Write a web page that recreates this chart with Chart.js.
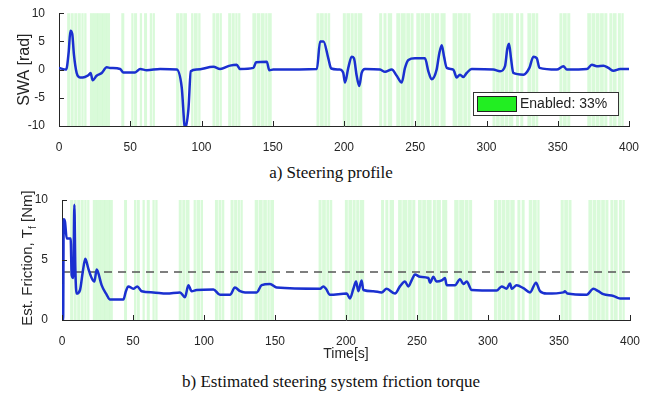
<!DOCTYPE html>
<html>
<head>
<meta charset="utf-8">
<script src="https://cdn.jsdelivr.net/npm/chart.js@4.4.1/dist/chart.umd.min.js"></script>
<style>
  body { margin: 0; background: #fff; }
  #wrap { position: relative; width: 662px; height: 399px; overflow: hidden; }
  canvas { position: absolute; left: 0; }
  .cap { position: absolute; left: 0; width: 662px; text-align: center;
         font-family: "Liberation Serif", "Times New Roman", serif; font-size: 17px; color: #111; }
</style>
</head>
<body>
<div id="wrap">
  <canvas id="swa" width="662" height="160" style="top:0"></canvas>
  <div class="cap" style="top:163px">a) Steering profile</div>
  <canvas id="fric" width="662" height="182" style="top:185px"></canvas>
  <div class="cap" style="top:372px">b) Estimated steering system friction torque</div>
</div>
<script>
// steering wheel angle [rad] vs time [s]
const swaTime  = [0, 5, 6.8, 8, 9.3, 10.5, 12.4, 14.7, 18.2, 20.6, 22.2, 23.6, 26.4, 30, 33.5, 35.9, 42.9, 45.2, 53.4, 57, 61.6, 71,
                  82.6, 86.1, 88.5, 90.8, 92.5, 96.7, 108.4, 113, 120, 124.7, 127, 136.4, 138.3, 145.8, 147.6, 150.4, 181, 183.2, 185.6, 189, 191,
                  197.2, 199.5, 200.7, 203, 205.4, 207, 208.9, 210.7, 212.4, 214.7, 225.3, 228.8, 233.5, 237, 240.5, 242.8, 245.2, 249.8, 256.8,
                  259.2, 261.5, 265, 266.9, 268.6, 270.2, 272.1, 276.7, 279.1, 281.4, 283.7, 286.1, 289.6, 304.8, 309.5, 313, 314.6, 315.8, 317.2,
                  318.8, 325.9, 330.1, 332.9, 335.3, 337.2, 349.3, 354, 356.4, 370.4, 373.9, 377.4, 382.1, 385.6, 389.1, 393.8, 400];
const swaValue = [0.3, 0, 3.1, 6.9, 6.3, 2.6, -0.6, -1.4, -1.3, -1, -0.6, -1.9, -1.1, -0.6, 0.4, 0.3, 0.1, -0.5, -0.5, 0.1, -0.1, 0.1,
                  0, -3.1, -10.5, -7.1, -0.3, 0, 0.5, 0.1, 0.7, 0.85, 0.1, 0.3, 1.3, 1.4, -0.1, 0, 0.1, 5, 5, 2, 0.2,
                  0, -0.6, -2.3, 0.3, 2.3, 2, -1.1, -2.9, -0.6, 0.1, 0, -0.4, 0, -1.1, -2.3, 0.3, 1.7, 2, 2,
                  -0.3, -1.7, 0, 2.9, 4.3, 2.3, 0.3, 0, -1.4, -0.9, -1.3, -0.6, 0.1, 0, -0.3, 0.6, 3.7, 4.6, 2,
                  -0.6, -0.9, 0.3, 2.3, 2, 0.3, 0, 0.6, 0, 0.1, 0.85, 0.6, 0.7, 0.3, -0.2, 0.1, 0.1];

// estimated friction torque [Nm] vs time [s]
const fricTime  = [0, 0.8, 1.2, 2.1, 3.3, 6.1, 6.8, 8, 8.7, 9.4, 10.3, 12.7, 14.6, 16.4, 18.5, 20.9, 22.8, 24.4, 25.6, 27.9, 31.5, 33.8,
                   43.2, 45, 46.7, 50.2, 53, 56.1, 64.3, 73.7, 83.1, 86.6, 89, 91.3, 94.8, 106.6, 111.3, 118.3, 121.8, 125.4, 128.9, 137.1,
                   140.6, 146.5, 151.2, 181.7, 184, 185.9, 188.7, 200.5, 202.8, 205.2, 207.1, 208.7, 211, 212.2, 219.2, 225.1, 228.6, 234.5,
                   238, 241.5, 243.9, 246.2, 248.6, 252.1, 258, 259.2, 261.5, 263.8, 267.4, 269.7, 270.9, 276.8, 280.3, 282.6, 285, 288.5,
                   306.1, 309.6, 313.1, 315.5, 316.7, 320.2, 324.9, 329.6, 333.8, 336.6, 341.3, 353.1, 354.2, 355.9, 369.5, 374.2, 377.7,
                   381.2, 388.3, 393, 400];
const fricValue = [3, 0, 8.4, 8.2, 6.8, 6.8, 3.75, 3.5, 9.6, 4.3, 2.2, 2.5, 4, 5.1, 4.3, 3.5, 3.2, 4.2, 3.9, 2.9, 2.1, 1.7,
                   1.7, 2.4, 2.8, 2.6, 2.8, 2.4, 2.3, 2.2, 2.3, 1.9, 2.9, 2.4, 2.5, 2.55, 2.1, 2.1, 2.7, 2.4, 2.3, 2.3,
                   2.9, 3, 2.7, 2.6, 2.8, 2.6, 2.1, 2.2, 1.8, 2.6, 3.2, 2.4, 3.3, 2.5, 2.4, 2.3, 2.6, 2.2,
                   2.8, 3.2, 2.8, 3.3, 3.8, 3.6, 3.5, 3.1, 3.6, 3.2, 3.3, 3.5, 2.9, 2.9, 3.4, 3, 3.2, 2.5,
                   2.45, 2.8, 2.6, 3.05, 2.6, 2.9, 2.65, 2.3, 3.1, 2.4, 2.2, 2.3, 2.4, 2.2, 2.1, 2.6, 2.4,
                   2.15, 2, 1.8, 1.8];
const fricLimit = 4;

// time windows where the feature was enabled [s]
const enabledStart = [6, 8.5, 11, 13.5, 16, 18, 22, 24.5, 27.5, 30.5, 33.5, 44, 51, 53, 57, 60, 64, 66, 82.5, 85, 87.5, 93, 95, 98,
                      108, 110.5, 113, 119, 121.5, 124, 126, 136, 139, 142, 145, 147, 181, 183.5, 186.5, 189, 199.5, 202, 205, 207.5, 210,
                      225, 228, 231, 237, 240, 244, 247, 251, 254, 257, 261.5, 264, 268, 276.5, 280, 284, 287,
                      304.5, 307, 310, 313, 316, 321, 324, 329, 332, 335, 351.5, 354, 357, 371, 374, 377, 380, 383, 386.5, 389, 392.5, 395];
const enabledEnd   = [7.5, 10, 12.5, 15, 17, 19, 24, 27, 30, 33, 35.5, 45.5, 52, 54.5, 58, 61.5, 65, 67, 84, 86.5, 89.5, 94, 97, 99,
                      109.5, 112, 114, 120.5, 123, 125, 127, 138, 141, 144, 146, 149, 182.5, 185.5, 188, 190, 201, 204, 206.5, 209, 212.5,
                      226.5, 229.5, 233.5, 239, 243, 246, 248.5, 253, 256, 260, 263, 266.5, 271, 279, 283, 286, 288.5,
                      306, 309, 312, 315, 318.5, 322.5, 325.5, 331, 334, 336, 353, 356, 358.5, 373, 376, 379, 382, 384.5, 388, 391, 394, 396];
const enabledLabel = 'Enabled: 33%';

const axisColor = '#262626';
const fontFamily = 'Liberation Sans, Arial, sans-serif';
const tickFont = { family: fontFamily, size: 12 };

function toPoints(xs, ys) {
    return xs.map((x, i) => ({ x: x, y: ys[i] }));
}

// green bands behind the curves, plus inward tick marks
const bandsPlugin = {
    id: 'bands',
    beforeDatasetsDraw(chart) {
        const { ctx, chartArea, scales } = chart;
        ctx.save();
        ctx.fillStyle = 'rgba(120,238,120,0.28)';
        enabledStart.forEach((s, i) => {
            const x0 = scales.x.getPixelForValue(s - 0.3);
            const x1 = scales.x.getPixelForValue(enabledEnd[i] + 0.3);
            ctx.fillRect(x0, chartArea.top, Math.max(x1 - x0, 1), chartArea.bottom - chartArea.top);
        });
        ctx.restore();
    },
    afterDraw(chart) {
        const { ctx, chartArea, scales } = chart;
        ctx.save();
        ctx.strokeStyle = axisColor;
        ctx.lineWidth = 1;
        scales.x.ticks.forEach(t => {
            const x = Math.round(scales.x.getPixelForValue(t.value)) + 0.5;
            ctx.beginPath();
            ctx.moveTo(x, chartArea.bottom);
            ctx.lineTo(x, chartArea.bottom - 5);
            ctx.stroke();
        });
        scales.y.ticks.forEach(t => {
            const y = Math.round(scales.y.getPixelForValue(t.value)) + 0.5;
            ctx.beginPath();
            ctx.moveTo(chartArea.left, y);
            ctx.lineTo(chartArea.left + 5, y);
            ctx.stroke();
        });
        ctx.restore();
    }
};

// legend box in the lower right of the steering plot
const legendPlugin = {
    id: 'boxLegend',
    afterDraw(chart) {
        const { ctx, chartArea } = chart;
        const w = 145, h = 23;
        const x = chartArea.right - 11 - w, y = chartArea.bottom - 11 - h;
        ctx.save();
        ctx.fillStyle = '#fff';
        ctx.fillRect(x, y, w, h);
        ctx.strokeStyle = '#333';
        ctx.lineWidth = 1;
        ctx.strokeRect(x + 0.5, y + 0.5, w, h);
        ctx.fillStyle = '#22ee22';
        ctx.fillRect(x + 4, y + 4, 39, 15);
        ctx.strokeStyle = '#222';
        ctx.strokeRect(x + 4.5, y + 4.5, 39, 15);
        ctx.fillStyle = '#222';
        ctx.font = '14px ' + fontFamily;
        ctx.textBaseline = 'middle';
        ctx.fillText(enabledLabel, x + 47, y + h / 2 + 1);
        ctx.restore();
    }
};

// y title with subscript for the friction plot
const fricTitlePlugin = {
    id: 'fricTitle',
    afterDraw(chart) {
        const { ctx, chartArea } = chart;
        const parts = [['Est. Friction, T', 15, 0], ['f', 10, 4], [' [Nm]', 15, 0]];
        ctx.save();
        ctx.translate(32, (chartArea.top + chartArea.bottom) / 2 - 2);
        ctx.rotate(-Math.PI / 2);
        ctx.fillStyle = axisColor;
        ctx.textBaseline = 'alphabetic';
        let total = 0;
        parts.forEach(p => { ctx.font = p[1] + 'px ' + fontFamily; total += ctx.measureText(p[0]).width; });
        let pos = -total / 2;
        parts.forEach(p => {
            ctx.font = p[1] + 'px ' + fontFamily;
            ctx.fillText(p[0], pos, p[2]);
            pos += ctx.measureText(p[0]).width;
        });
        ctx.restore();
    }
};

function xScale(height, withTitle) {
    return {
        type: 'linear', min: 0, max: 400,
        grid: { display: false },
        border: { display: true, color: axisColor },
        ticks: { stepSize: 50, color: axisColor, font: tickFont, padding: 6, maxRotation: 0 },
        title: { display: withTitle, text: 'Time[s]', color: axisColor, font: { family: fontFamily, size: 14 }, padding: { top: 5 } },
        afterFit(s) { s.height = height; }
    };
}

function yScale(min, max, width, title) {
    return {
        min: min, max: max,
        grid: { display: false },
        border: { display: true, color: axisColor },
        ticks: { stepSize: 5, color: axisColor, font: tickFont, padding: 6 },
        title: { display: !!title, text: title, color: axisColor, font: { family: fontFamily, size: 16 }, padding: { top: 15, bottom: 0 } },
        afterFit(s) { s.width = width; }
    };
}

new Chart(document.getElementById('swa'), {
    type: 'line',
    data: {
        datasets: [{
            label: 'SWA',
            data: toPoints(swaTime, swaValue),
            borderColor: '#1a30d0',
            borderWidth: 2.5,
            pointRadius: 0,
            cubicInterpolationMode: 'monotone'
        }]
    },
    options: {
        responsive: false,
        animation: false,
        layout: { padding: { top: 10, right: 33 } },
        plugins: { legend: { display: false }, tooltip: { enabled: false } },
        scales: { x: xScale(34, false), y: yScale(-10, 10, 59, 'SWA [rad]') }
    },
    plugins: [bandsPlugin, legendPlugin]
});

new Chart(document.getElementById('fric'), {
    type: 'line',
    data: {
        datasets: [{
            label: 'Friction',
            data: toPoints(fricTime, fricValue),
            borderColor: '#1a30d0',
            borderWidth: 2.5,
            pointRadius: 0,
            cubicInterpolationMode: 'monotone'
        }, {
            label: 'Limit',
            data: [{ x: 0, y: fricLimit }, { x: 400, y: fricLimit }],
            borderColor: '#555',
            borderWidth: 1.3,
            borderDash: [8, 6],
            pointRadius: 0
        }]
    },
    options: {
        responsive: false,
        animation: false,
        layout: { padding: { top: 15, right: 32 } },
        plugins: { legend: { display: false }, tooltip: { enabled: false } },
        scales: { x: xScale(47, true), y: yScale(0, 10, 62, '') }
    },
    plugins: [bandsPlugin, fricTitlePlugin]
});
</script>
</body>
</html>
